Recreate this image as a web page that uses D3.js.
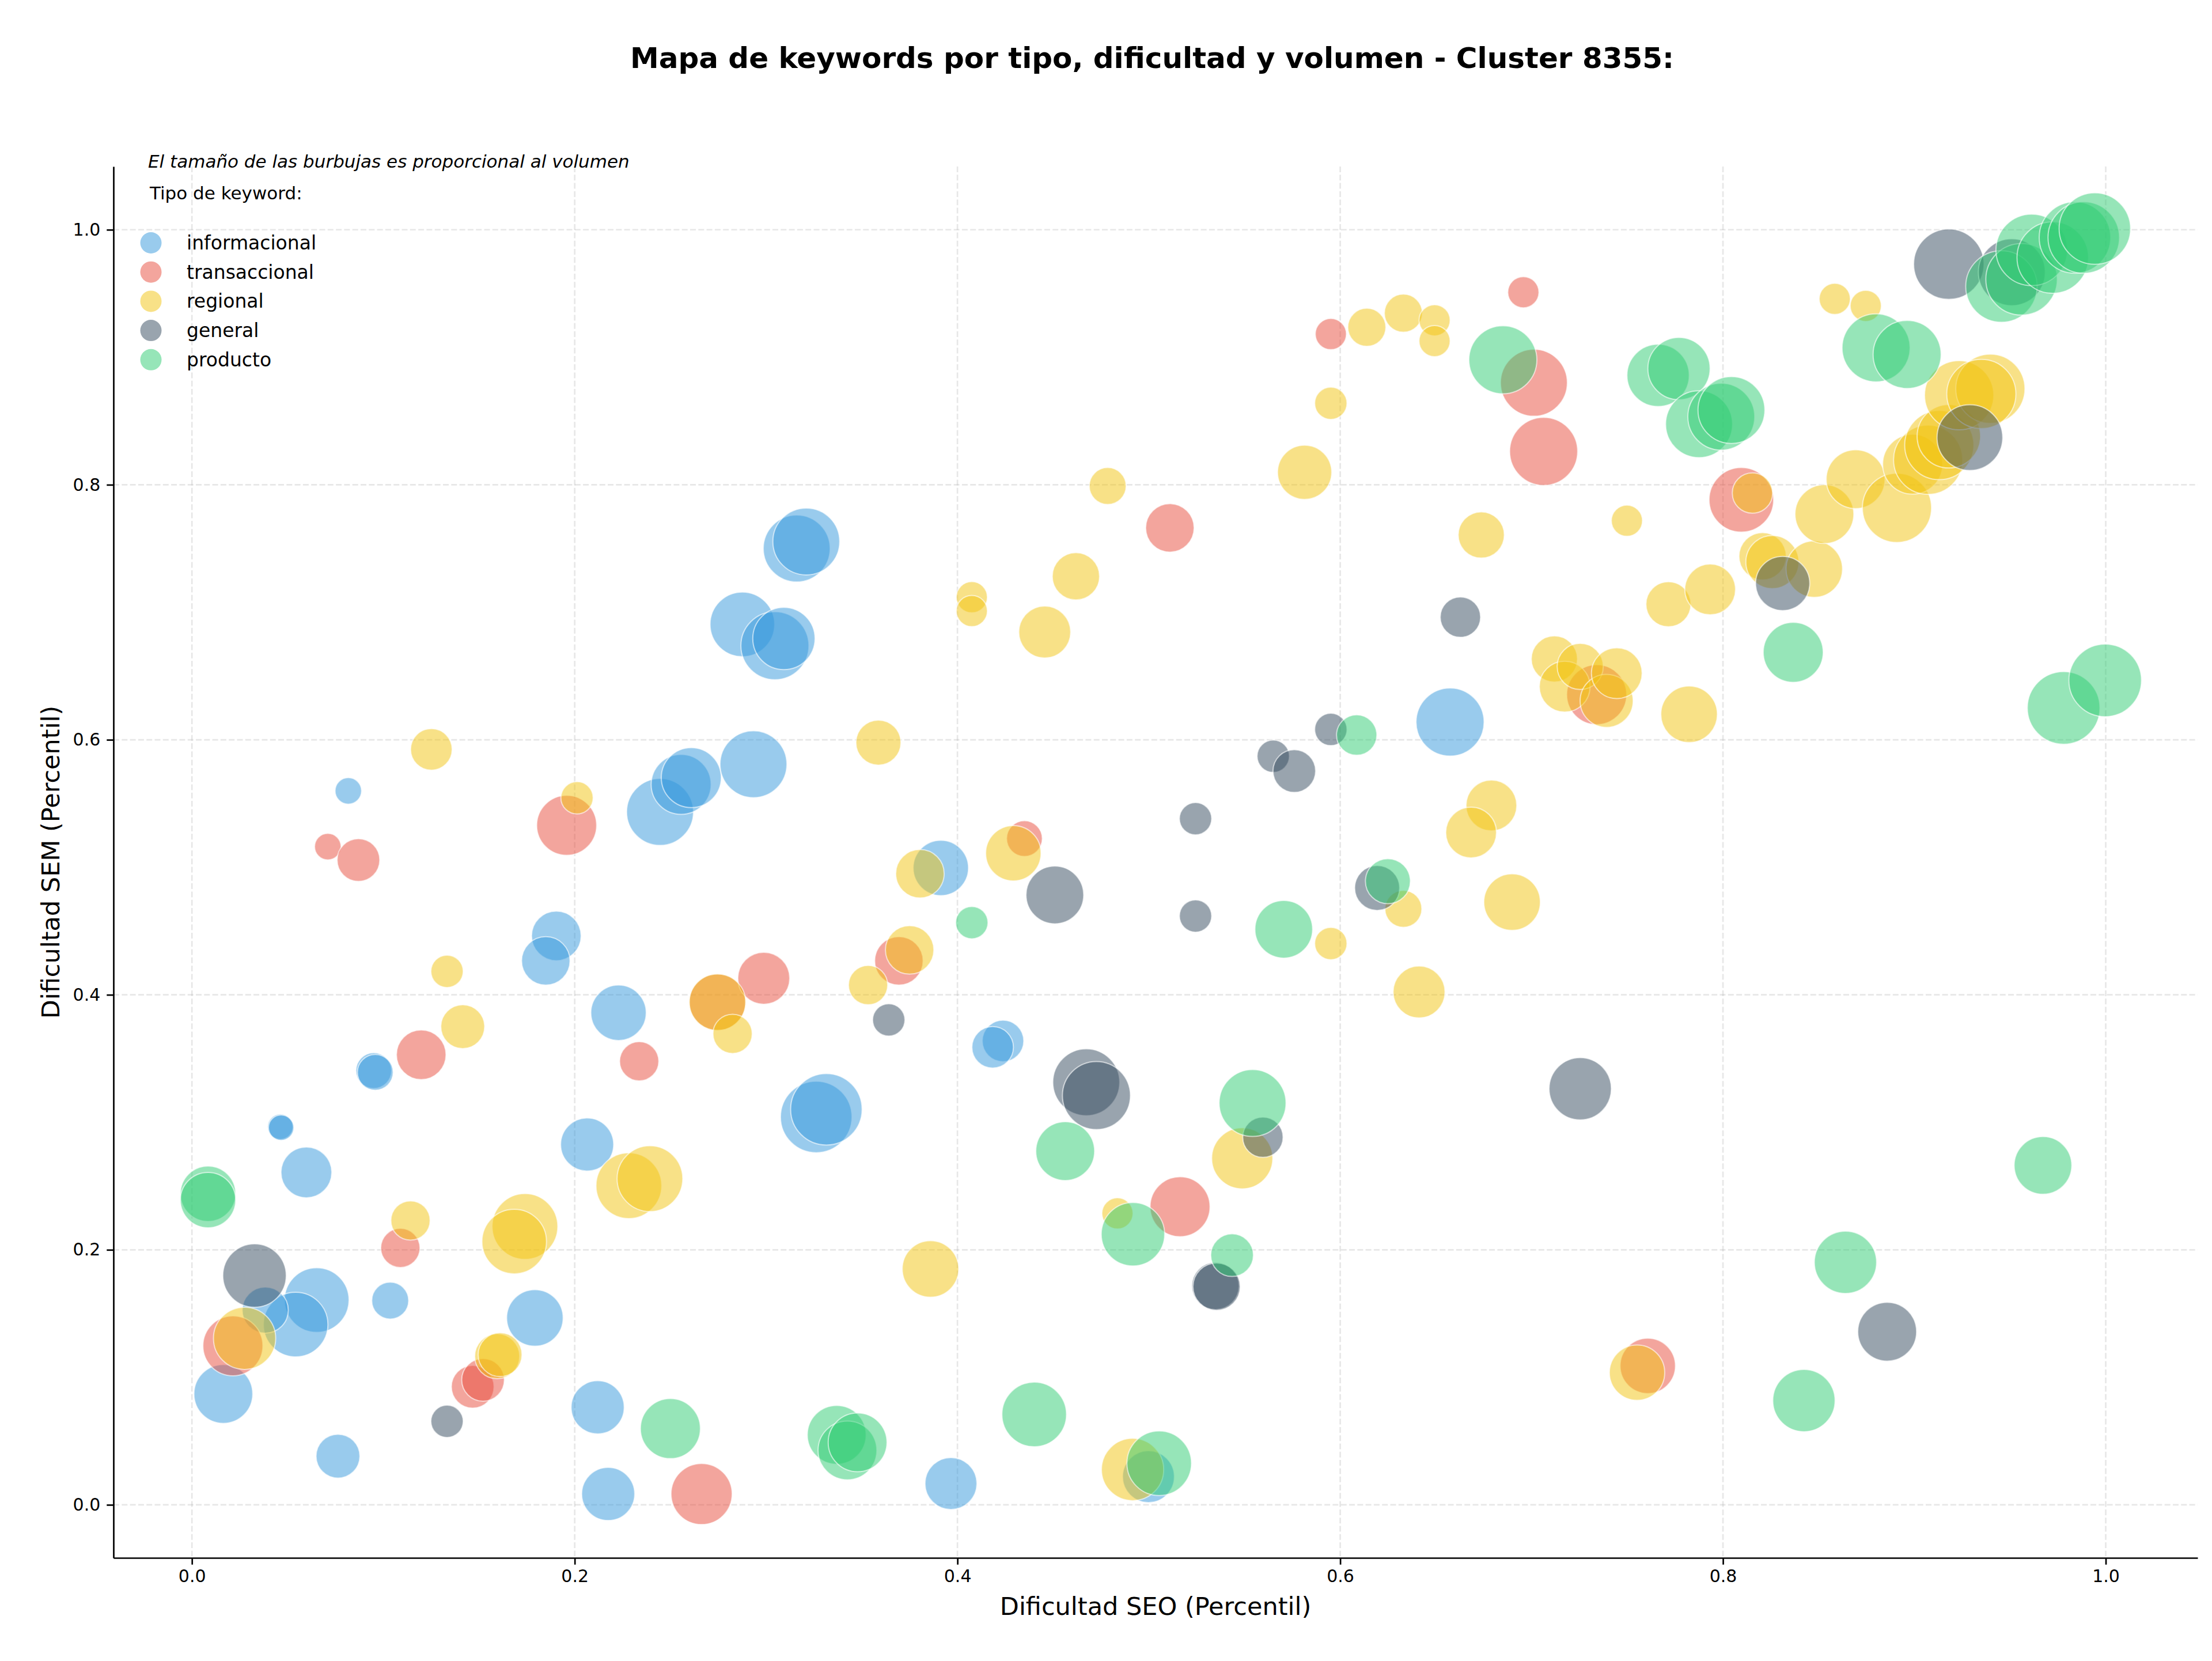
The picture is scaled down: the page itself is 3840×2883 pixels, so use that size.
<!DOCTYPE html>
<html>
<head>
<meta charset="utf-8">
<script src="https://cdn.jsdelivr.net/npm/d3@7/dist/d3.min.js"></script>
<style>
  html, body { margin: 0; padding: 0; background: #ffffff; }
  svg { display: block; font-family: "DejaVu Sans", sans-serif; }
</style>
</head>
<body>
<svg id="chart" width="3840" height="2883"></svg>
<script>
// ---------- DATA: [dificultad SEO, dificultad SEM, volumen] ----------
const tipos = ["informacional", "transaccional", "regional", "general", "producto"];
const colores = ["#3498db", "#e74c3c", "#f1c40f", "#34495e", "#2ecc71"];
const xTicks = [0.0, 0.2, 0.4, 0.6, 0.8, 1.0];
const yTicks = [0.0, 0.2, 0.4, 0.6, 0.8, 1.0];

const informacional = [
  [0.316, 0.750, 841], [0.321, 0.7555, 841], [0.2876, 0.6905, 784], [0.3046, 0.6738, 870],
  [0.3093, 0.6794, 729], [0.0817, 0.5599, 132], [0.2446, 0.5434, 841], [0.2556, 0.565, 676],
  [0.2609, 0.5703, 676], [0.2934, 0.5808, 841], [0.1904, 0.4462, 462], [0.1849, 0.4266, 441],
  [0.0950, 0.3405, 240], [0.0958, 0.3392, 240], [0.0462, 0.2965, 121], [0.0466, 0.2958, 121],
  [0.0598, 0.2607, 484], [0.1036, 0.1602, 256], [0.0652, 0.1606, 784], [0.0542, 0.1414, 784],
  [0.0383, 0.1527, 400], [0.0164, 0.087, 650], [0.0763, 0.0382, 361], [0.1792, 0.1466, 600],
  [0.2229, 0.3859, 576], [0.2065, 0.2826, 529], [0.212, 0.0765, 529], [0.2175, 0.0085, 529],
  [0.3262, 0.3042, 961], [0.3315, 0.3102, 961], [0.3913, 0.4995, 576], [0.4238, 0.3638, 324],
  [0.4184, 0.3588, 324], [0.3966, 0.0167, 506], [0.4998, 0.0221, 506], [0.6574, 0.6139, 870]
];

const transaccional = [
  [0.071, 0.5162, 132], [0.087, 0.5057, 342], [0.1958, 0.5329, 676], [0.1198, 0.353, 462],
  [0.1089, 0.2015, 289], [0.0214, 0.1247, 676], [0.1467, 0.0926, 342], [0.1521, 0.098, 342],
  [0.2337, 0.3479, 289], [0.2746, 0.3942, 600], [0.2988, 0.413, 506], [0.2663, 0.0085, 702],
  [0.435, 0.5225, 240], [0.3694, 0.4266, 441], [0.5163, 0.2338, 676], [0.7607, 0.109, 576],
  [0.5951, 0.9182, 182], [0.511, 0.7662, 441], [0.6957, 0.951, 182], [0.7012, 0.88, 841],
  [0.7063, 0.8262, 870], [0.8096, 0.7882, 784], [0.734, 0.6354, 676]
];

const regional = [
  [0.1251, 0.5925, 324], [0.2012, 0.5545, 196], [0.1333, 0.4184, 196], [0.1415, 0.375, 361],
  [0.1142, 0.223, 289], [0.174, 0.2183, 812], [0.1684, 0.2065, 784], [0.0275, 0.1306, 729],
  [0.1595, 0.1165, 380], [0.161, 0.1178, 361], [0.2746, 0.3942, 600], [0.2825, 0.3694, 289],
  [0.2283, 0.2503, 812], [0.2393, 0.2558, 812], [0.3804, 0.495, 441], [0.4292, 0.511, 576],
  [0.375, 0.4352, 441], [0.3533, 0.4076, 289], [0.3859, 0.185, 600], [0.5488, 0.2718, 702],
  [0.4836, 0.2286, 182], [0.5951, 0.4402, 196], [0.633, 0.4674, 256], [0.6412, 0.4022, 506],
  [0.6898, 0.4727, 600], [0.4915, 0.0277, 729], [0.7551, 0.1037, 576], [0.6139, 0.9235, 272],
  [0.633, 0.9346, 272], [0.6493, 0.929, 182], [0.6493, 0.9127, 182], [0.5951, 0.8639, 196],
  [0.5814, 0.8098, 552], [0.4785, 0.799, 256], [0.4619, 0.7282, 420], [0.4075, 0.7118, 182],
  [0.4075, 0.701, 182], [0.4456, 0.6845, 506], [0.6737, 0.7606, 400], [0.3587, 0.5978, 380],
  [0.679, 0.5485, 484], [0.6684, 0.5273, 484], [0.8154, 0.7935, 306], [0.7498, 0.7718, 182],
  [0.7715, 0.7063, 380], [0.7933, 0.7179, 484], [0.8207, 0.7439, 420], [0.8258, 0.7394, 529],
  [0.8477, 0.7339, 600], [0.853, 0.777, 650], [0.8693, 0.8044, 650], [0.8909, 0.7819, 900],
  [0.8991, 0.8161, 676], [0.9072, 0.8196, 900], [0.913, 0.8311, 900], [0.918, 0.838, 756],
  [0.9234, 0.8702, 900], [0.9397, 0.8753, 900], [0.935, 0.8712, 900], [0.8584, 0.9458, 182],
  [0.8746, 0.9403, 182], [0.7119, 0.6634, 400], [0.7173, 0.6417, 484], [0.7254, 0.6575, 400],
  [0.7392, 0.6305, 529], [0.7445, 0.6522, 484], [0.7823, 0.62, 600]
];

const general = [
  [0.0327, 0.1798, 756], [0.1333, 0.0655, 196], [0.3641, 0.3803, 196], [0.4509, 0.4783, 625],
  [0.4673, 0.3314, 841], [0.4726, 0.321, 870], [0.5596, 0.2883, 306], [0.5348, 0.1717, 420],
  [0.5354, 0.1711, 420], [0.5244, 0.4618, 196], [0.6193, 0.4838, 380], [0.7254, 0.3263, 729],
  [0.8858, 0.1358, 650], [0.6628, 0.6962, 306], [0.5951, 0.6081, 196], [0.565, 0.5871, 196],
  [0.576, 0.5755, 342], [0.5244, 0.5381, 196], [0.8312, 0.7226, 552], [0.929, 0.837, 812],
  [0.918, 0.973, 930], [0.9509, 0.9667, 841]
];

const producto = [
  [0.0084, 0.244, 576], [0.0084, 0.239, 576], [0.25, 0.0598, 676], [0.4075, 0.4566, 196],
  [0.4563, 0.2774, 650], [0.5542, 0.3151, 841], [0.4917, 0.2122, 756], [0.5435, 0.1958, 342],
  [0.5705, 0.4514, 625], [0.6249, 0.4891, 380], [0.3369, 0.0549, 650], [0.3425, 0.0427, 650],
  [0.3478, 0.049, 650], [0.4401, 0.0709, 784], [0.5054, 0.0326, 784], [0.9672, 0.2662, 625],
  [0.864, 0.1902, 729], [0.8423, 0.0818, 729], [0.6086, 0.6037, 306], [0.685, 0.898, 870],
  [0.7661, 0.8858, 729], [0.777, 0.8911, 729], [0.7875, 0.8475, 841], [0.7991, 0.8534, 841],
  [0.8044, 0.8586, 841], [0.8367, 0.6686, 676], [0.88, 0.9074, 870], [0.8962, 0.9022, 870],
  [0.9455, 0.9555, 961], [0.956, 0.9611, 961], [0.9613, 0.9842, 961], [0.9723, 0.9782, 961],
  [0.9839, 0.9939, 961], [0.9885, 0.9939, 961], [0.9943, 1.0009, 961], [0.978, 0.625, 992],
  [0.9997, 0.6466, 992]
];

const series = [informacional, transaccional, regional, general, producto];

// ---------- LAYOUT ----------
const svg = d3.select("#chart");
const L = 197, R = 3815, T = 289, B = 2704;
const FONT = "'DejaVu Sans', sans-serif";

const x = d3.scaleLinear().domain([-0.041, 1.048]).range([L, R]);
const y = d3.scaleLinear().domain([-0.0416, 1.0496]).range([B, T]);
const r = d3.scaleSqrt().domain([0, 1000]).range([0, 63.25]);
const color = d3.scaleOrdinal().domain(tipos).range(colores);

svg.append("rect").attr("width", 3840).attr("height", 2883).attr("fill", "#ffffff");

// grid
const grid = svg.append("g");
grid.selectAll("line.gx").data(xTicks).join("line")
  .attr("x1", d => x(d)).attr("x2", d => x(d)).attr("y1", T).attr("y2", B)
  .attr("stroke", "#b0b0b0").attr("stroke-opacity", 0.3)
  .attr("stroke-width", 2.7).attr("stroke-dasharray", "10,4.3");
grid.selectAll("line.gy").data(yTicks).join("line")
  .attr("y1", d => y(d)).attr("y2", d => y(d)).attr("x1", L).attr("x2", R)
  .attr("stroke", "#b0b0b0").attr("stroke-opacity", 0.3)
  .attr("stroke-width", 2.7).attr("stroke-dasharray", "10,4.3");

// bubbles
const plot = svg.append("g");
series.forEach((data, i) => {
  plot.append("g").selectAll("circle").data(data).join("circle")
    .attr("cx", d => x(d[0])).attr("cy", d => y(d[1])).attr("r", d => r(d[2]))
    .attr("fill", color(tipos[i])).attr("fill-opacity", 0.5)
    .attr("stroke", "#ffffff").attr("stroke-opacity", 0.6).attr("stroke-width", 2);
});

// axes
const fmt = d3.format(".1f");
const xAxis = svg.append("g").attr("transform", `translate(0,${B})`)
  .call(d3.axisBottom(x).tickValues(xTicks).tickFormat(fmt).tickSizeInner(11.7).tickSizeOuter(0).tickPadding(9));
const yAxis = svg.append("g").attr("transform", `translate(${L},0)`)
  .call(d3.axisLeft(y).tickValues(yTicks).tickFormat(fmt).tickSizeInner(11.7).tickSizeOuter(0).tickPadding(11));
[xAxis, yAxis].forEach(a => {
  a.select(".domain").attr("stroke", "#000").attr("stroke-width", 2.7);
  a.selectAll(".tick line").attr("stroke", "#000").attr("stroke-width", 2.7);
  a.selectAll(".tick text").attr("fill", "#000").style("font-family", FONT).style("font-size", "30px");
});

// axis labels
svg.append("text").attr("x", (L + R) / 2).attr("y", 2803)
  .attr("text-anchor", "middle").style("font-family", FONT).style("font-size", "43px")
  .text("Dificultad SEO (Percentil)");
svg.append("text").attr("transform", `translate(103,${(T + B) / 2}) rotate(-90)`)
  .attr("text-anchor", "middle").style("font-family", FONT).style("font-size", "43px")
  .text("Dificultad SEM (Percentil)");

// title
svg.append("text").attr("x", 2000).attr("y", 118)
  .attr("text-anchor", "middle").style("font-family", FONT).style("font-size", "50px")
  .style("font-weight", "bold")
  .text("Mapa de keywords por tipo, dificultad y volumen - Cluster 8355:");

// note + legend
svg.append("text").attr("x", 257).attr("y", 280).attr("dominant-baseline", "central")
  .style("font-family", FONT).style("font-size", "31px").style("font-style", "italic")
  .text("El tamaño de las burbujas es proporcional al volumen");
svg.append("text").attr("x", 260).attr("y", 335).attr("dominant-baseline", "central")
  .style("font-family", FONT).style("font-size", "31px")
  .text("Tipo de keyword:");
const leg = svg.append("g").selectAll("g").data(tipos).join("g")
  .attr("transform", (d, i) => `translate(262,${421.5 + i * 50.7})`);
leg.append("circle").attr("r", 18.5).attr("fill", d => color(d)).attr("fill-opacity", 0.5);
leg.append("text").attr("x", 62).attr("dominant-baseline", "central")
  .style("font-family", FONT).style("font-size", "33px").text(d => d);
</script>
</body>
</html>
